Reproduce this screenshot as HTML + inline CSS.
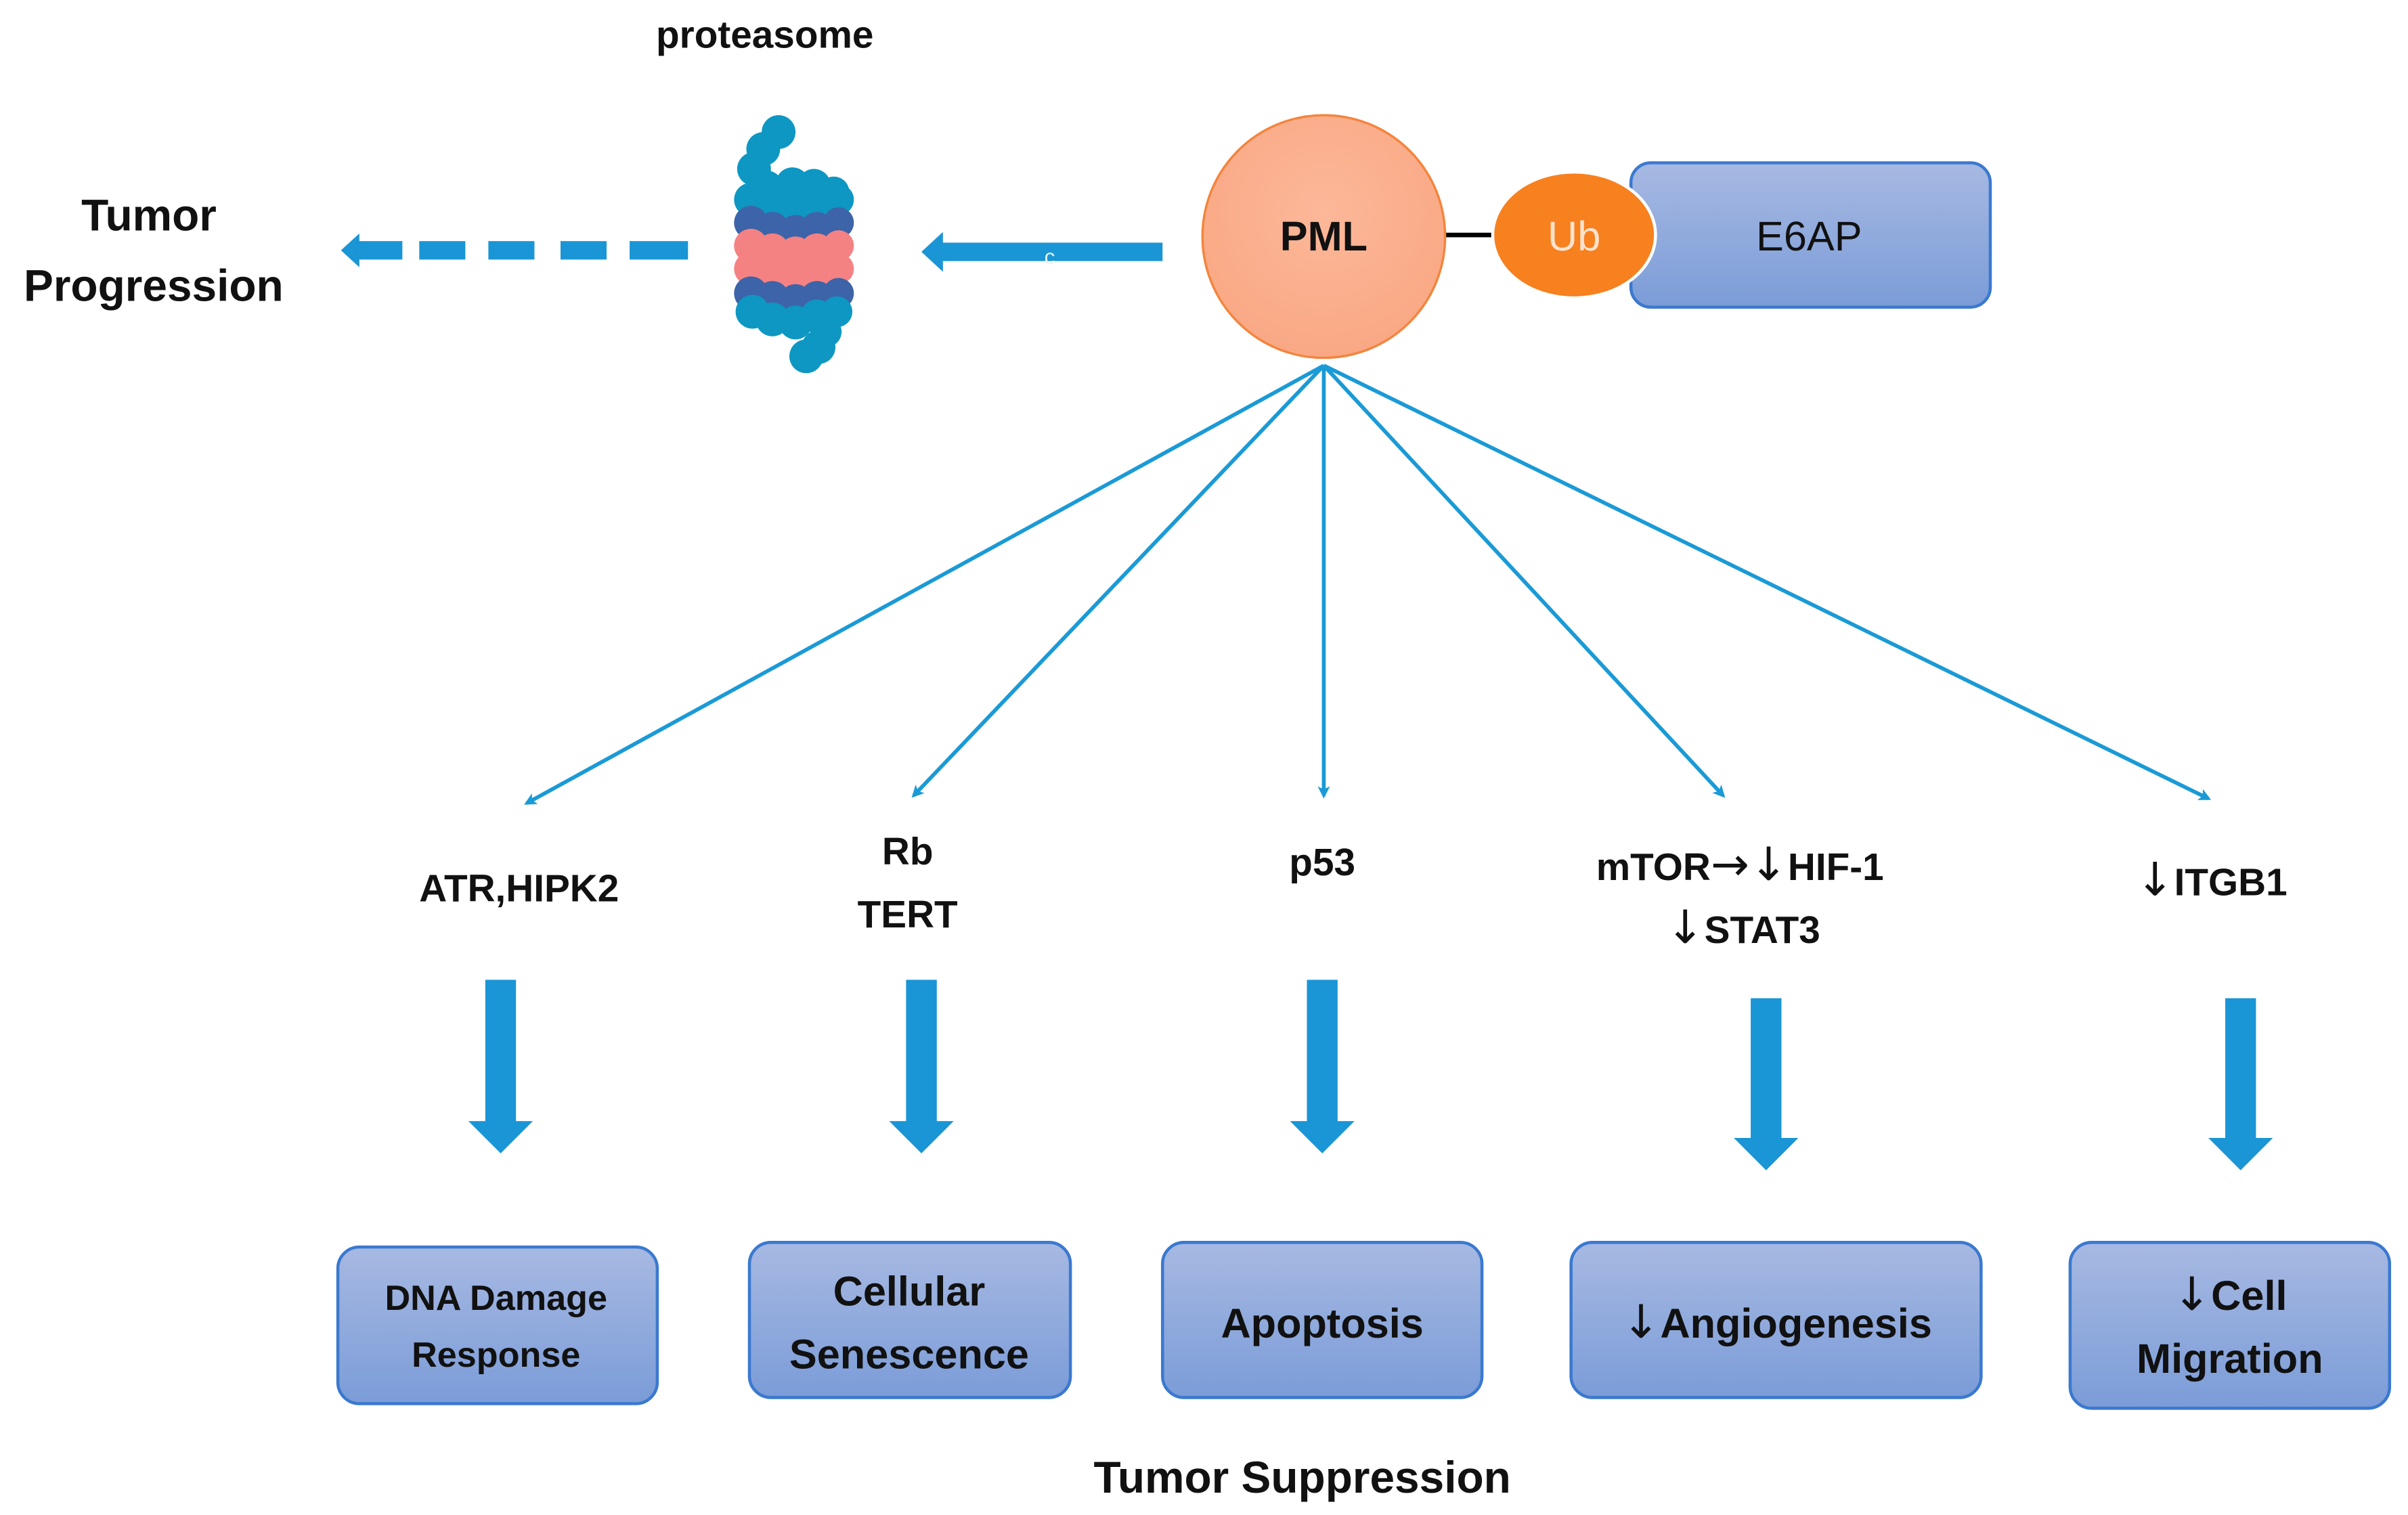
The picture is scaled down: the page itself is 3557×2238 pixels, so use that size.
<!DOCTYPE html>
<html><head><meta charset="utf-8"><style>
html,body{margin:0;padding:0;background:#fff}
svg{display:block}
text{font-family:"Liberation Sans",sans-serif;fill:#111}
.ar{font-family:"DejaVu Sans",sans-serif;font-weight:normal;font-size:30px}
</style></head><body>
<svg width="3557" height="2238" viewBox="0 0 1568 986.5" preserveAspectRatio="none" xmlns="http://www.w3.org/2000/svg">
<defs>
<linearGradient id="bx" x1="0" y1="0" x2="0" y2="1"><stop offset="0" stop-color="#a7b9e2"/><stop offset="1" stop-color="#7b9cd8"/></linearGradient>
<radialGradient id="pm" cx="0.5" cy="0.4" r="0.6"><stop offset="0" stop-color="#fcb899"/><stop offset="1" stop-color="#f9a884"/></radialGradient>
<marker id="ah" markerWidth="8" markerHeight="8" refX="6" refY="4" orient="auto" markerUnits="userSpaceOnUse"><path d="M0,0 L8,4 L0,8 L2,4 Z" fill="#1a9ad6"/></marker>
</defs>

<text x="498" y="31" font-size="25" font-weight="bold" text-anchor="middle">proteasome</text>
<text x="97" y="150" font-size="29" font-weight="bold" text-anchor="middle">Tumor</text>
<text x="100" y="196" font-size="29" font-weight="bold" text-anchor="middle">Progression</text>

<g fill="#1a95d5">
<polygon points="222,163 234,152 234,174"/>
<rect x="232" y="157" width="30" height="12"/>
<rect x="273" y="157" width="30" height="12"/>
<rect x="318" y="157" width="30" height="12"/>
<rect x="365" y="157" width="30" height="12"/>
<rect x="410" y="157" width="38" height="12"/>
</g>
<g fill="#1a95d5">
<polygon points="600,164 614,151 614,177"/>
<rect x="612" y="158" width="145" height="12"/>
</g>
<text x="680" y="172" font-size="14" style="fill:#eaf4fb">c</text>

<g>
<g fill="#0d97c2">
<circle cx="507" cy="86" r="11"/><circle cx="497" cy="97" r="11"/><circle cx="491" cy="110" r="11"/>
<circle cx="499" cy="122" r="11"/><circle cx="516" cy="120" r="11"/><circle cx="530" cy="121" r="11"/><circle cx="543" cy="125" r="10"/>
<circle cx="489" cy="130" r="11"/><circle cx="503" cy="134" r="11"/><circle cx="518" cy="136" r="11"/><circle cx="532" cy="134" r="11"/><circle cx="546" cy="130" r="10"/>
</g>
<g fill="#3d64a8">
<circle cx="489" cy="145" r="11"/><circle cx="546" cy="145" r="10"/>
<circle cx="503" cy="149" r="11"/><circle cx="518" cy="151" r="11"/><circle cx="532" cy="149" r="11"/>
</g>
<g fill="#f58283">
<circle cx="489" cy="160" r="11"/><circle cx="546" cy="160" r="10"/>
<circle cx="503" cy="163" r="11"/><circle cx="518" cy="165" r="11"/><circle cx="532" cy="163" r="11"/>
<circle cx="489" cy="175" r="11"/><circle cx="546" cy="175" r="10"/>
<circle cx="503" cy="178" r="11"/><circle cx="518" cy="180" r="11"/><circle cx="532" cy="178" r="11"/>
</g>
<g fill="#3d64a8">
<circle cx="489" cy="191" r="11"/><circle cx="546" cy="191" r="10"/>
<circle cx="503" cy="194" r="11"/><circle cx="518" cy="196" r="11"/><circle cx="532" cy="194" r="11"/>
</g>
<g fill="#0d97c2">
<circle cx="490" cy="203" r="11"/><circle cx="503" cy="208" r="11"/><circle cx="518" cy="210" r="11"/><circle cx="532" cy="206" r="11"/><circle cx="545" cy="203" r="10"/>
<circle cx="538" cy="216" r="10"/><circle cx="533" cy="226" r="11"/><circle cx="525" cy="232" r="11"/>
</g>
</g>

<rect x="1062" y="106" width="234" height="94" rx="13" fill="url(#bx)" stroke="#3b79cf" stroke-width="2"/>
<line x1="940" y1="153" x2="975" y2="153" stroke="#000" stroke-width="3"/>
<ellipse cx="1025" cy="153" rx="53" ry="41" fill="#f7801f" stroke="#fff" stroke-width="2"/>
<text x="1025" y="163" font-size="27" text-anchor="middle" style="fill:#fde3cf">Ub</text>
<text x="1178" y="163" font-size="27" text-anchor="middle">E6AP</text>
<circle cx="862" cy="154" r="79" fill="url(#pm)" stroke="#f4843c" stroke-width="1.5"/>
<text x="862" y="163" font-size="27" font-weight="bold" text-anchor="middle">PML</text>

<g stroke="#1a9ad6" stroke-width="2.5" fill="none" marker-end="url(#ah)">
<line x1="862" y1="238" x2="343" y2="523"/>
<line x1="862" y1="238" x2="595" y2="518"/>
<line x1="862" y1="238" x2="862" y2="518"/>
<line x1="862" y1="238" x2="1122" y2="518"/>
<line x1="862" y1="238" x2="1438" y2="520"/>
</g>

<g font-size="25" font-weight="bold" text-anchor="middle">
<text x="338" y="587">ATR,HIPK2</text>
<text x="591" y="563">Rb</text>
<text x="591" y="604">TERT</text>
<text x="861" y="570">p53</text>
<text x="1133" y="573">mTOR<tspan class="ar" font-weight="bold">→</tspan><tspan class="ar">↓</tspan>HIF-1</text>
<text x="1135" y="614"><tspan class="ar">↓</tspan>STAT3</text>
<text x="1440" y="583"><tspan class="ar">↓</tspan>ITGB1</text>
</g>

<g fill="#1a95d5">
<rect x="316" y="638" width="20" height="93"/><polygon points="305,730 347,730 326,751"/>
<rect x="590" y="638" width="20" height="93"/><polygon points="579,730 621,730 600,751"/>
<rect x="851" y="638" width="20" height="93"/><polygon points="840,730 882,730 861,751"/>
<rect x="1140" y="650" width="20" height="92"/><polygon points="1129,741 1171,741 1150,762"/>
<rect x="1449" y="650" width="20" height="92"/><polygon points="1438,741 1480,741 1459,762"/>
</g>

<g stroke="#3b79cf" stroke-width="2" fill="url(#bx)">
<rect x="220" y="812" width="208" height="102" rx="14"/>
<rect x="488" y="809" width="209" height="101" rx="14"/>
<rect x="757" y="809" width="208" height="101" rx="14"/>
<rect x="1023" y="809" width="267" height="101" rx="14"/>
<rect x="1348" y="809" width="208" height="108" rx="14"/>
</g>
<g font-weight="bold" text-anchor="middle">
<text x="323" y="853" font-size="23">DNA Damage</text>
<text x="323" y="890" font-size="23">Response</text>
<text x="592" y="850" font-size="27">Cellular</text>
<text x="592" y="891" font-size="27">Senescence</text>
<text x="861" y="871" font-size="27">Apoptosis</text>
<text x="1157" y="871" font-size="27"><tspan class="ar">↓</tspan>Angiogenesis</text>
<text x="1452" y="853" font-size="27"><tspan class="ar">↓</tspan>Cell</text>
<text x="1452" y="894" font-size="27">Migration</text>
</g>
<text x="848" y="972" font-size="29" font-weight="bold" text-anchor="middle">Tumor Suppression</text>
</svg>
</body></html>
